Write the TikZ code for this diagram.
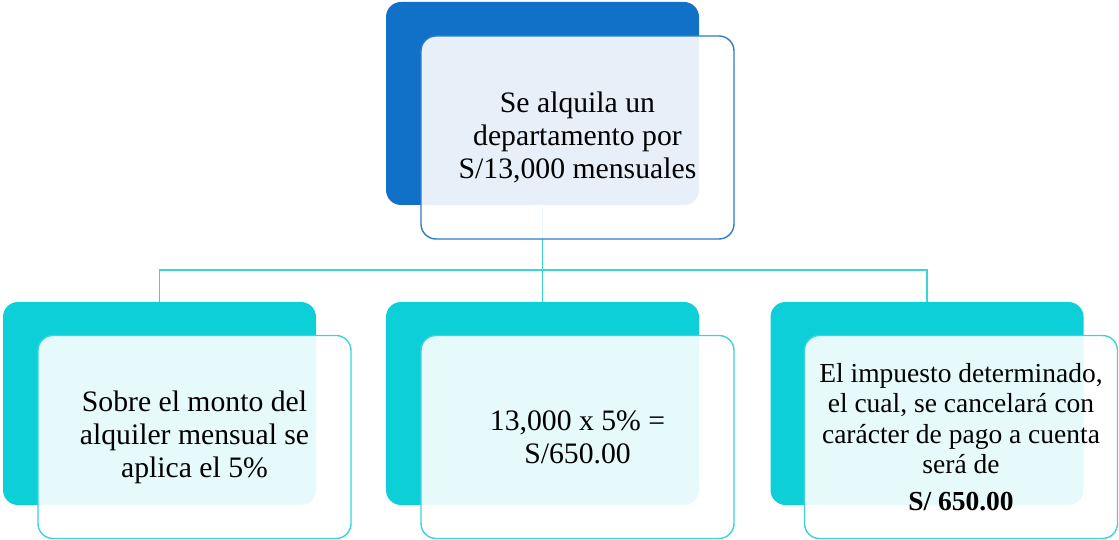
\documentclass[tikz,border=0pt]{standalone}
\usepackage{fontspec}
\setmainfont{Liberation Serif}
\usetikzlibrary{positioning}
\definecolor{topblue}{HTML}{1170C7}
\definecolor{topline}{HTML}{2F7ACB}
\definecolor{boxteal}{HTML}{0DCFD8}
\definecolor{linkteal}{HTML}{3CD3DB}
\tikzset{
    node distance=300pt, % distance between the two rows of boxes
    back/.style={rectangle, rounded corners=15pt, minimum width=313pt, minimum height=203pt, inner sep=0pt}, % coloured box behind
    front/.style={rectangle, rounded corners=15pt, minimum width=313pt, minimum height=203pt, line width=1.4pt,
        fill=white, fill opacity=0.9, text opacity=1, align=center, font=\fontsize{29.7pt}{33pt}\selectfont}, % text box in front
    link/.style={draw=linkteal, line width=1.6pt}, % connector lines
}
\begin{document}
\begin{tikzpicture}[on grid]
      \useasboundingbox (0,0) rectangle (1119pt,540pt);
      \node (q_top) [back, fill=topblue] at (542.5pt,436.5pt) {};
      \node (q_mid) [back, fill=boxteal, below=of q_top] {};
      \node (q_left) [back, fill=boxteal, left=383pt of q_mid] {};
      \node (q_right) [back, fill=boxteal, right=384.5pt of q_mid] {};

      \draw[link] (q_top.south) -- ++(0,-65pt) coordinate (q_bus);
      \draw[link] (q_bus) -| (q_left.north);
      \draw[link] (q_bus) -| (q_right.north);
      \draw[link] (q_bus) -- (q_mid.north);

      \node (q_toptext) [front, draw=topline, below right=34pt and 35pt of q_top] {Se alquila un\\departamento por\\S/13,000 mensuales};
      \node (q_lefttext) [front, draw=linkteal, below right=33.5pt and 35pt of q_left] {Sobre el monto del\\alquiler mensual se\\aplica el 5\%};
      \node (q_midtext) [front, draw=linkteal, below right=33.5pt and 35pt of q_mid] {13,000 x 5\% =\\S/650.00};
      \node (q_righttext) [front, draw=linkteal, below right=33.5pt and 34pt of q_right, font=\fontsize{27.5pt}{30.5pt}\selectfont]
            {El impuesto determinado,\\el cual, se cancelará con\\carácter de pago a cuenta\\será de\\[6pt]\textbf{S/ 650.00}};
\end{tikzpicture}
\end{document}
